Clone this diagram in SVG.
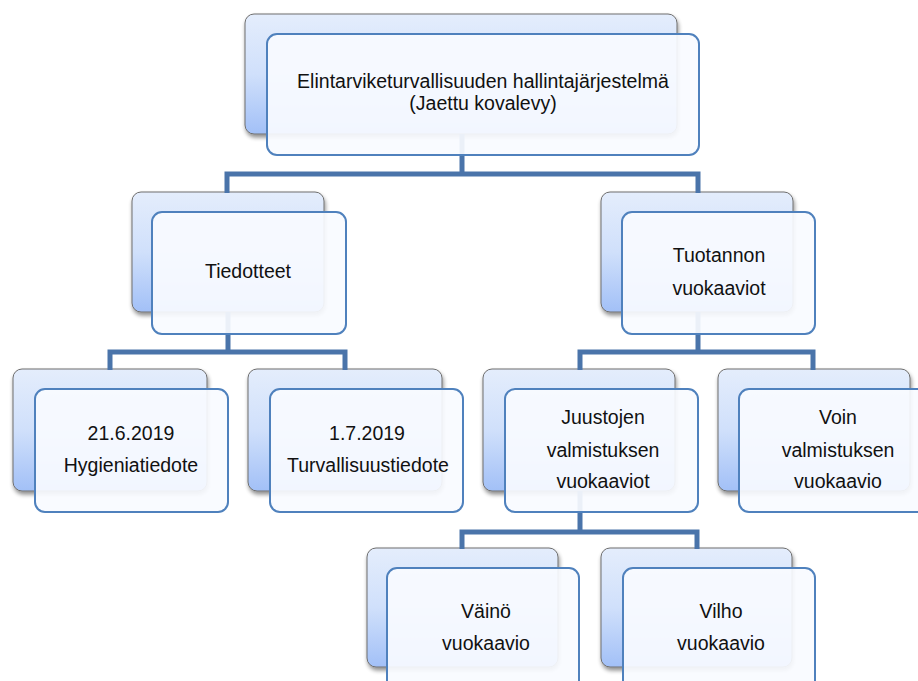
<svg xmlns="http://www.w3.org/2000/svg" width="918" height="681" viewBox="0 0 918 681">
<defs>
<linearGradient id="bg" x1="0" y1="0" x2="0" y2="1">
<stop offset="0" stop-color="#e4edfc"/>
<stop offset="0.5" stop-color="#d0e0fb"/>
<stop offset="1" stop-color="#a2c0f7"/>
</linearGradient>
<filter id="sh" x="-10%" y="-10%" width="125%" height="130%">
<feGaussianBlur in="SourceAlpha" stdDeviation="2"/>
<feOffset dx="1" dy="3" result="b"/>
<feComponentTransfer><feFuncA type="linear" slope="0.45"/></feComponentTransfer>
<feMerge><feMergeNode/><feMergeNode in="SourceGraphic"/></feMerge>
</filter>
</defs>
<style>
.back{fill:url(#bg);stroke:#6e6e6e;stroke-width:1;filter:url(#sh)}
.front{fill:#f9fbff;fill-opacity:0.92;stroke:#4f81bd;stroke-width:2}
.conn{fill:none;stroke:#4a74aa;stroke-width:5;stroke-linejoin:miter}
text{font-family:"Liberation Sans",Arial,sans-serif;font-size:19.5px;fill:#111;text-anchor:middle}
</style>
<rect width="918" height="681" fill="#fff"/>
<!-- back layers -->
<rect class="back" x="245" y="14" width="432" height="120" rx="9"/>
<rect class="back" x="132" y="192" width="192" height="120" rx="9"/>
<rect class="back" x="601" y="192" width="192" height="120" rx="9"/>
<rect class="back" x="13" y="369" width="194" height="122" rx="9"/>
<rect class="back" x="248" y="369" width="194" height="122" rx="9"/>
<rect class="back" x="483" y="369" width="192" height="122" rx="9"/>
<rect class="back" x="718" y="369" width="192" height="122" rx="9"/>
<rect class="back" x="367" y="548" width="191" height="119" rx="9"/>
<rect class="back" x="601" y="548" width="191" height="119" rx="9"/>
<g id="connectors">
<path class="conn" d="M462,134 V174 M227,193 V174 H698 V193"/>
<path class="conn" d="M228,312 V352 M110,370 V352 H345 V370"/>
<path class="conn" d="M698,312 V352 M580,370 V352 H813 V370"/>
<path class="conn" d="M580,491 V532 M462,549 V532 H697 V549"/>
</g>
<g id="n-root">
<rect class="front" x="267" y="34" width="432" height="121" rx="10"/>
<text x="483" y="88">Elintarviketurvallisuuden hallintajärjestelmä</text>
<text x="483" y="110">(Jaettu kovalevy)</text>
</g>
<g id="n-tiedotteet">
<rect class="front" x="152" y="212" width="194" height="122" rx="10"/>
<text x="248" y="278">Tiedotteet</text>
</g>
<g id="n-tuotannon">
<rect class="front" x="622" y="212" width="193" height="122" rx="10"/>
<text x="719" y="262">Tuotannon</text>
<text x="719" y="295">vuokaaviot</text>
</g>
<g id="n-hygienia">
<rect class="front" x="35" y="389" width="193" height="123" rx="10"/>
<text x="131" y="440">21.6.2019</text>
<text x="131" y="472">Hygieniatiedote</text>
</g>
<g id="n-turvallisuus">
<rect class="front" x="270" y="389" width="193" height="123" rx="10"/>
<text x="367" y="440">1.7.2019</text>
<text x="368" y="472">Turvallisuustiedote</text>
</g>
<g id="n-juustojen">
<rect class="front" x="505" y="389" width="193" height="123" rx="10"/>
<text x="603" y="424">Juustojen</text>
<text x="603" y="457">valmistuksen</text>
<text x="603" y="488">vuokaaviot</text>
</g>
<g id="n-voin">
<rect class="front" x="739" y="389" width="193" height="123" rx="10"/>
<text x="838" y="424">Voin</text>
<text x="838" y="457">valmistuksen</text>
<text x="838" y="488">vuokaavio</text>
</g>
<g id="n-vaino">
<rect class="front" x="387" y="568" width="192" height="122" rx="10"/>
<text x="486" y="618">Väinö</text>
<text x="486" y="650">vuokaavio</text>
</g>
<g id="n-vilho">
<rect class="front" x="623" y="568" width="192" height="122" rx="10"/>
<text x="721" y="618">Vilho</text>
<text x="721" y="650">vuokaavio</text>
</g>
</svg>
